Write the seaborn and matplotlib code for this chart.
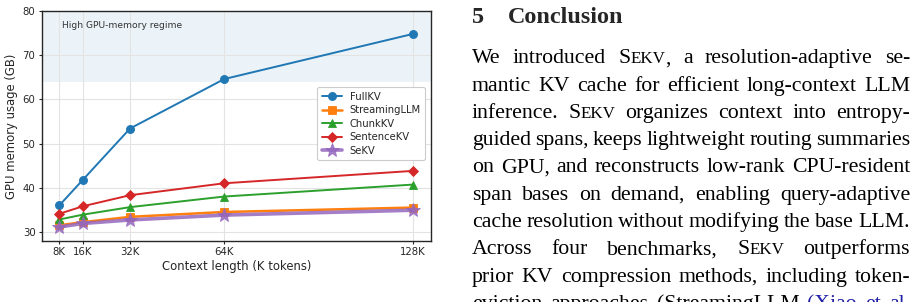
import matplotlib
matplotlib.use("Agg")
import matplotlib.pyplot as plt
import seaborn as sns
import pandas as pd

# ---------------- data ----------------
context_k = [8, 16, 32, 64, 128]
tick_labels = ["8K", "16K", "32K", "64K", "128K"]
methods = ["FullKV", "StreamingLLM", "ChunkKV", "SentenceKV", "SeKV"]
fullkv = [36.0, 41.8, 53.4, 64.6, 74.8]
streamingllm = [31.5, 32.2, 33.4, 34.5, 35.5]
chunkkv = [32.8, 33.9, 35.6, 38.0, 40.7]
sentencekv = [34.1, 35.8, 38.3, 41.0, 43.8]
sekv = [31.1, 31.9, 32.7, 33.8, 34.9]
series = [fullkv, streamingllm, chunkkv, sentencekv, sekv]

yticks = [30, 40, 50, 60, 70, 80]
regime_low, regime_high = 64, 80
regime_label = "High GPU-memory regime"

heading_num = "5"
heading_text = "Conclusion"
body_lines = [
    "We introduced SEKV, a resolution-adaptive se-",
    "mantic KV cache for efficient long-context LLM",
    "inference. SEKV organizes context into entropy-",
    "guided spans, keeps lightweight routing summaries",
    "on GPU, and reconstructs low-rank CPU-resident",
    "span bases on demand, enabling query-adaptive",
    "cache resolution without modifying the base LLM.",
    "Across four benchmarks, SEKV outperforms",
    "prior KV compression methods, including token-",
    "eviction approaches (StreamingLLM (Xiao et al.",
]
link_words = ["(Xiao", "et", "al."]

# ---------------- style ----------------
sns.set_theme(style="whitegrid")
plt.rcParams.update({
    "font.family": ["DejaVu Sans"],
    "axes.edgecolor": "#262626",
    "axes.linewidth": 1.0,
    "grid.color": "#e3e3e3",
    "grid.linewidth": 0.8,
    "xtick.bottom": True,
    "ytick.left": True,
    "xtick.color": "#262626",
    "ytick.color": "#262626",
    "xtick.major.size": 2.5,
    "ytick.major.size": 2.5,
    "xtick.major.width": 0.8,
    "ytick.major.width": 0.8,
    "xtick.major.pad": 2.0,
    "ytick.major.pad": 2.0,
    "xtick.labelsize": 7.3,
    "ytick.labelsize": 7.3,
    "axes.labelsize": 8.4,
    "axes.labelcolor": "#262626",
})

W, H = 917, 302
fig = plt.figure(figsize=(W / 100, H / 100), dpi=100)
L, R, T, B = 41.7, 431.0, 11.0, 240.7
ax = fig.add_axes([L / W, 1 - B / H, (R - L) / W, (B - T) / H])

df = pd.DataFrame({
    "context": context_k * len(methods),
    "mem": [v for s in series for v in s],
    "method": [m for m in methods for _ in context_k],
})

palette = ["#1f77b4", "#ff7f0e", "#2ca02c", "#d62728", "#9467bd"]
markers = ["o", "s", "^", "D", "*"]
lws = [1.4, 1.8, 1.4, 1.4, 2.6]
mss = [5.8, 6.0, 6.0, 5.6, 10.0]
alphas = [1.0, 1.0, 1.0, 1.0, 0.85]

ax.axhspan(regime_low, regime_high, color="#1f77b4", alpha=0.085, lw=0, zorder=0)

for i, m in enumerate(methods):
    sub = df[df["method"] == m]
    sns.lineplot(data=sub, x="context", y="mem", ax=ax, color=palette[i],
                 marker=markers[i], markersize=mss[i], linewidth=lws[i],
                 markeredgecolor=palette[i], markeredgewidth=0.6,
                 alpha=alphas[i], label=m, zorder=3 + i)

ax.set_xlim(2, 134.2)
ax.set_ylim(28, 80)
ax.set_xticks(context_k)
ax.set_xticklabels(tick_labels)
ax.set_yticks(yticks)
ax.set_xlabel("Context length (K tokens)", labelpad=2)
ax.set_ylabel("GPU memory usage (GB)", labelpad=3)
for s in ax.spines.values():
    s.set_visible(True)
    s.set_color("#262626")

ax.text(8.9, 76.7, regime_label, fontsize=6.6, color="#333333", va="center", ha="left")

leg = ax.legend(loc="upper right", bbox_to_anchor=(0.985, 0.669), borderaxespad=0,
                fontsize=7.2, frameon=True, framealpha=1.0, edgecolor="#cccccc",
                handlelength=2.0, labelspacing=0.35, borderpad=0.45)
leg.get_frame().set_linewidth(0.8)
leg.set_zorder(10)

# ---------------- right-hand text column ----------------
serif = "Liberation Serif"
body_fs = 15.65
head_fs = 17.4
sc_scale = 0.78
X0, X1 = 472.0, 910.0
first_base, line_gap = 63.3, 27.3

renderer = fig.canvas.get_renderer()


def fx(px):
    return px / W


def fy(py):
    return 1 - py / H


def segments(word):
    segs = []
    color = "#1f1fa8" if word in link_words else "black"
    if "SEKV" in word:
        pre, post = word.split("SEKV", 1)
        if pre:
            segs.append((pre, 1.0, color))
        segs.append(("S", 1.0, color))
        segs.append(("EKV", sc_scale, color))
        if post:
            segs.append((post, 1.0, color))
    else:
        segs.append((word, 1.0, color))
    return segs


def seg_width(text, size):
    t = fig.text(0, 0, text, fontsize=size, family=serif)
    w = t.get_window_extent(renderer).width
    t.remove()
    return w


for k, line in enumerate(body_lines):
    words = line.split(" ")
    wsegs = [segments(w) for w in words]
    widths = [sum(seg_width(t, body_fs * s) for t, s, c in ws) for ws in wsegs]
    gap = (X1 - X0 - sum(widths)) / max(len(words) - 1, 1)
    y = first_base + k * line_gap
    x = X0
    for ws, wd in zip(wsegs, widths):
        xx = x
        for t, s, c in ws:
            fig.text(fx(xx), fy(y), t, fontsize=body_fs * s, family=serif,
                     color=c, va="baseline", ha="left")
            xx += seg_width(t, body_fs * s)
        x += wd + gap

fig.text(fx(472), fy(22.7), heading_num, fontsize=head_fs, family=serif,
         weight="bold", va="baseline", ha="left")
fig.text(fx(508), fy(22.7), heading_text, fontsize=head_fs, family=serif,
         weight="bold", va="baseline", ha="left")

fig.savefig("out.png", dpi=100)
